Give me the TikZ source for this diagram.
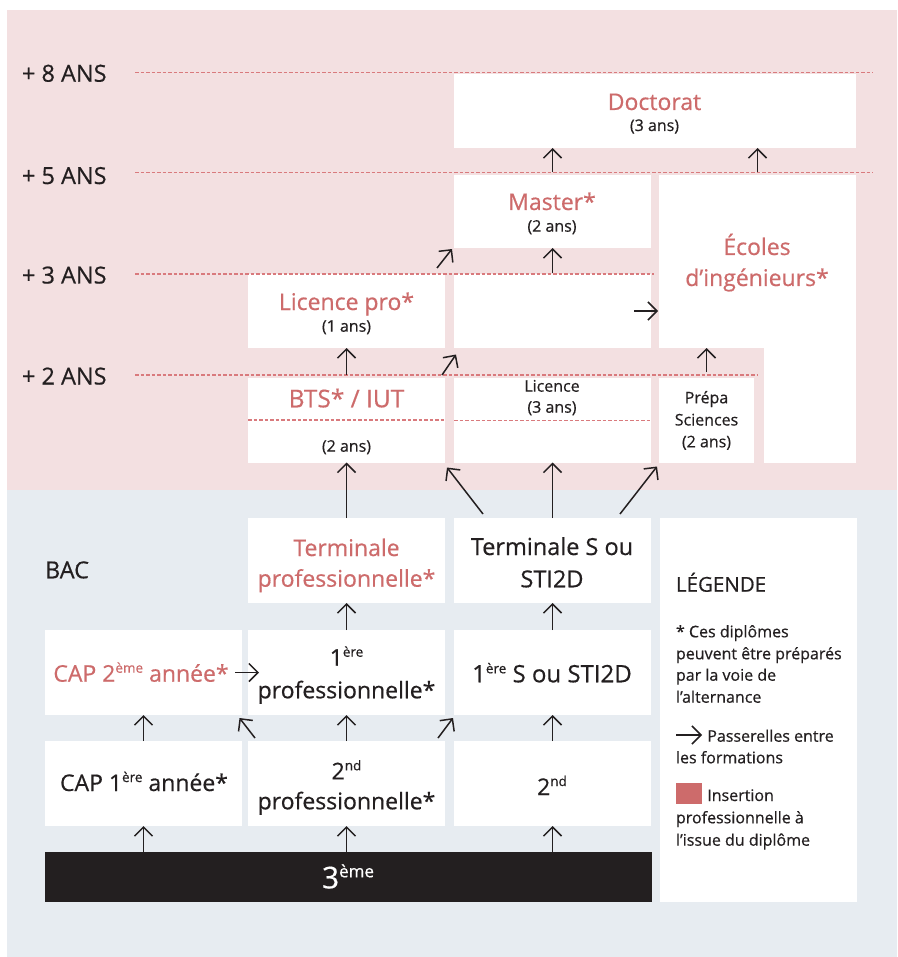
\documentclass[tikz,border=0pt]{standalone}
\usepackage{fontspec}
\setmainfont{Open Sans}[FakeBold=0.5]
\usetikzlibrary{arrows.meta,calc}
\definecolor{pinkbg}{HTML}{F3E0E1}
\definecolor{bluebg}{HTML}{E7ECF1}
\definecolor{redc}{HTML}{CD6B6B}
\definecolor{dashc}{HTML}{D97A7D}
\definecolor{ink}{HTML}{231F20}
\newcommand{\sps}[1]{\raisebox{9pt}{\fontsize{13.5}{13.5}\selectfont #1}}
\begin{document}
\begin{tikzpicture}[x=1pt,y=-1pt,
  box/.style={fill=white,draw=none,inner sep=0pt,outer sep=0pt,anchor=north west},
  arr/.style={draw=ink,line width=1.5pt,-{Straight Barb[length=9pt,width=18pt]}},
  ansline/.style={draw=dashc,line width=1.2pt,dash pattern=on 3.5pt off 2pt},
  lbl/.style={inner sep=0pt,outer sep=0pt,anchor=base,text=ink},
  big/.style={font=\fontsize{23}{28}\selectfont},
  sml/.style={font=\fontsize{16}{20}\selectfont},
  rd/.style={text=redc},
  lg/.style={lbl,sml,anchor=base west},
  ans/.style={lbl,font=\fontsize{23.5}{28}\selectfont,anchor=base west}
]
\useasboundingbox (0,0) rectangle (897,957);
\fill[white] (0,0) rectangle (897,957);
\fill[pinkbg] (7,10) rectangle (897,490);
\fill[bluebg] (7,490) rectangle (897,957);

% ---- boxes (upper part)
\node[box,minimum width=402pt,minimum height=74pt] (doct) at (454,74) {};
\node[box,minimum width=197pt,minimum height=73pt] (master) at (454,175) {};
\node[box,minimum width=197pt,minimum height=173pt] (ecoles) at (659,175) {};
\node[box,minimum width=92pt,minimum height=115pt] (ecolesbas) at (764,347.5) {};
\node[box,minimum width=197pt,minimum height=74pt] (licpro) at (248,274) {};
\node[box,minimum width=197pt,minimum height=74pt] (lichaut) at (454,274) {};
\node[box,minimum width=197pt,minimum height=84.5pt] (bts) at (248,378) {};
\node[box,minimum width=197pt,minimum height=84.5pt] (lic) at (454,378) {};
\node[box,minimum width=95pt,minimum height=84.5pt] (prepa) at (659,378) {};
% ---- boxes (lower part)
\node[box,minimum width=197pt,minimum height=85pt] (terpro) at (248,518) {};
\node[box,minimum width=197pt,minimum height=85pt] (ters) at (454,518) {};
\node[box,minimum width=197pt,minimum height=85pt] (cap2) at (45,630) {};
\node[box,minimum width=197pt,minimum height=85pt] (onepro) at (248,630) {};
\node[box,minimum width=197pt,minimum height=85pt] (ones) at (454,630) {};
\node[box,minimum width=197pt,minimum height=85pt] (cap1) at (45,741) {};
\node[box,minimum width=197pt,minimum height=85pt] (twopro) at (248,741) {};
\node[box,minimum width=197pt,minimum height=85pt] (two) at (454,741) {};
\node[box,fill=ink,minimum width=607pt,minimum height=50pt] (trois) at (45,852) {};
\node[box,minimum width=197pt,minimum height=384pt] (legende) at (660,518) {};

% ---- dashed year lines
\draw[ansline] (135,72.5) -- (873,72.5);
\draw[ansline] (135,172.7) -- (873,172.7);
\draw[ansline] (135,274) -- (654,274);
\draw[ansline] (135,375) -- (757,375);
\draw[ansline] (bts.west |- 0,420) -- (bts.east |- 0,420);
\draw[ansline] (lic.west |- 0,420.5) -- (lic.east |- 0,420.5);

% ---- year labels
\node[ans] (a8) at (22,81.7) {+ 8 ANS};
\node[ans] (a5) at (22,184) {+ 5 ANS};
\node[ans] (a3) at (22,283.5) {+ 3 ANS};
\node[ans] (a2) at (22,384.5) {+ 2 ANS};
\node[ans] (bac) at (45,578.3) {BAC};

% ---- texts upper
\node[lbl,big,rd] (t-doct) at (654.5,110) {Doctorat};
\node[lbl,sml] (t-doct2) at (654.5,131) {(3 ans)};
\node[lbl,big,rd] (t-master) at (552,210) {Master*};
\node[lbl,sml] (t-master2) at (552,231.7) {(2 ans)};
\node[lbl,big,rd] (t-ecoles) at (757,255) {Écoles};
\node[lbl,big,rd] (t-ecoles2) at (757,286) {d’ingénieurs*};
\node[lbl,big,rd] (t-licpro) at (346.5,310) {Licence pro*};
\node[lbl,sml] (t-licpro2) at (346.5,331.7) {(1 ans)};
\node[lbl,rd,font=\fontsize{24.5}{28}\selectfont] (t-bts) at (346.5,407.3) {BTS* / IUT};
\node[lbl,sml] (t-bts2) at (346.5,451.7) {(2 ans)};
\node[lbl,sml] (t-lic) at (552,391.7) {Licence};
\node[lbl,sml] (t-lic2) at (552,412.7) {(3 ans)};
\node[lbl,sml] (t-prepa) at (706.5,403.3) {Prépa};
\node[lbl,sml] (t-prepa2) at (706.5,425.5) {Sciences};
\node[lbl,sml] (t-prepa3) at (706.5,447.3) {(2 ans)};

% ---- texts lower
\node[lbl,big,rd] (t-terpro) at (346.5,556) {Terminale};
\node[lbl,big,rd] (t-terpro2) at (346.5,586.7) {professionnelle*};
\node[lbl,font=\fontsize{23.5}{30}\selectfont] (t-ters) at (552,555) {Terminale S ou};
\node[lbl,font=\fontsize{23.5}{30}\selectfont] (t-ters2) at (552,587.3) {STI2D};
\node[lbl,big,rd] (t-cap2) at (141,681.7) {CAP 2\sps{ème} année*};
\node[lbl,big] (t-onepro) at (346.5,665.7) {1\sps{ère}};
\node[lbl,big] (t-onepro2) at (346.5,698.3) {professionnelle*};
\node[lbl,font=\fontsize{24}{28}\selectfont] (t-ones) at (552,682.3) {1\sps{ère} S ou STI2D};
\node[lbl,big] (t-cap1) at (144,791) {CAP 1\sps{ère} année*};
\node[lbl,big] (t-twopro) at (346.5,779.3) {2\sps{nd}};
\node[lbl,big] (t-twopro2) at (346.5,809.3) {professionnelle*};
\node[lbl,big] (t-two) at (552,795) {2\sps{nd}};
\node[lbl,text=white,font=\fontsize{30}{34}\selectfont] (t-trois) at (348,888.3) {3\raisebox{11pt}{\fontsize{17}{17}\selectfont ème}};

% ---- legend
\node[lbl,font=\fontsize{20.5}{24}\selectfont,anchor=base west] (t-leg) at (676,591.7) {LÉGENDE};
\node[lg] (l1) at (676,637.3) {* Ces diplômes};
\node[lg] (l2) at (676,659.3) {peuvent être préparés};
\node[lg] (l3) at (676,680.7) {par la voie de};
\node[lg] (l4) at (676,702.7) {l’alternance};
\coordinate (la1) at (676,735);
\coordinate (la2) at (702,735);
\draw[arr] (la1) -- (la2);
\node[lg] (l5) at (707.3,741.7) {Passerelles entre};
\node[lg] (l6) at (676,763.3) {les formations};
\node[box,fill=redc,minimum width=26pt,minimum height=21pt] (sq) at (676,783) {};
\node[lg] (l7) at (707.3,801) {Insertion};
\node[lg] (l8) at (676,823.3) {professionnelle à};
\node[lg] (l9) at (676,845.7) {l’issue du diplôme};

% ---- arrows upper
\draw[arr] ([yshift=2.5pt]master.north) -- (master.north |- doct.south);
\draw[arr] ([yshift=2.5pt]ecoles.north) -- (ecoles.north |- doct.south);
\draw[arr] ([yshift=1pt]lichaut.north) -- (lichaut.north |- master.south);
\draw[arr] ($(licpro.north east)+(-8,-6)$) -- ($(master.south west)+(-2,1)$);
\draw[arr] ([yshift=3pt]bts.north) -- (bts.north |- licpro.south);
\draw[arr] ($(bts.north east)+(-3,-3)$) -- ($(lichaut.south west)+(2,6.5)$);
\draw[arr] ($(lichaut.east)+(-17,0)$) -- ($(ecoles.west |- lichaut.east)+(-1,0)$);
\draw[arr] ([yshift=6pt]prepa.north) -- (prepa.north |- ecoles.south);
% ---- arrows lower
\draw[arr] (terpro.north) -- (terpro.north |- bts.south);
\draw[arr] ($(ters.north west)+(29,-4)$) -- ($(bts.south east)+(2,5)$);
\draw[arr] (ters.north) -- (ters.north |- lic.south);
\draw[arr] ($(ters.north east)+(-31,-4)$) -- ($(prepa.south west)+(-2,4)$);
\draw[arr] (onepro.north) -- (onepro.north |- terpro.south);
\draw[arr] (ones.north) -- (ones.north |- ters.south);
\draw[arr] ($(cap2.east)+(-7,0)$) -- ($(onepro.west)+(11,0)$);
\draw[arr] (cap1.north) -- (cap1.north |- cap2.south);
\draw[arr] ($(twopro.north west)+(7,-3)$) -- ($(cap2.south east)+(-2.5,3)$);
\draw[arr] (twopro.north) -- (twopro.north |- onepro.south);
\draw[arr] ($(twopro.north east)+(-7,-3)$) -- ($(ones.south west)+(-1,3)$);
\draw[arr] (two.north) -- (two.north |- ones.south);
\draw[arr] (cap1.south |- trois.north) -- (cap1.south);
\draw[arr] (twopro.south |- trois.north) -- (twopro.south);
\draw[arr] (two.south |- trois.north) -- (two.south);
\end{tikzpicture}
\end{document}
